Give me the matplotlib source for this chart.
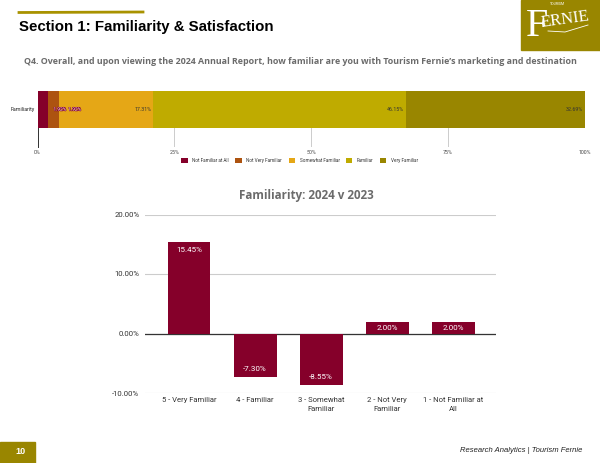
import matplotlib
matplotlib.use("Agg")
import matplotlib.pyplot as plt
import matplotlib.patheffects as pe
from matplotlib.patches import Rectangle
from matplotlib.ticker import FuncFormatter

W, H = 600, 463

# top stacked bar
stack_names = ["Not Familiar at All", "Not Very Familiar", "Somewhat Familiar", "Familiar", "Very Familiar"]
stack_values = [1.92, 1.92, 17.31, 46.15, 32.69]
stack_colors = ["#85002a", "#ad5310", "#e5a716", "#bfab00", "#998600"]
stack_ticks = [0, 25, 50, 75, 100]

# bottom chart
categories = ["5 - Very Familiar", "4 - Familiar", "3 - Somewhat\nFamiliar", "2 - Not Very\nFamiliar", "1 - Not Familiar at\nAll"]
diffs = [15.45, -7.30, -8.66, 2.00, 2.00]
diff_labels = ["15.45%", "-7.30%", "-8.55%", "2.00%", "2.00%"]
diff_ticks = [-10, 0, 10, 20]


# axes placed by pixel box, y counted from the top of the image
def px_axes(left, top, right, bottom):
    return fig.add_axes([left / W, 1 - bottom / H, (right - left) / W, (bottom - top) / H])


fig = plt.figure(figsize=(6, 4.63), dpi=100)
plt.rcParams["font.family"] = "Roboto"

# page furniture
page = px_axes(0, 0, W, H)
page.set_xlim(0, W)
page.set_ylim(H, 0)
page.axis("off")
page.plot([19, 143], [12.5, 12], color="#a89200", lw=2)
page.text(19, 27, "Section 1: Familiarity & Satisfaction", family="Liberation Sans", weight="bold",
          fontsize=10.8, va="center", color="black")
page.text(300, 62, "Q4. Overall, and upon viewing the 2024 Annual Report, how familiar are you with Tourism Fernie\u2019s marketing and destination",
          family="Open Sans", weight="bold", fontsize=6.38, va="center", ha="center", color="#6b6b6b")

# logo
page.add_patch(Rectangle((521, 0), 79, 50, color="#998600"))
page.text(537, 26, "F", family="Liberation Serif", fontsize=29, color="white", ha="center", va="center")
page.text(565, 20, "ERNIE", family="Liberation Serif", fontsize=12, color="white", ha="center", va="center", rotation=8)
page.plot([548, 565, 588], [31, 32, 25], color="white", lw=0.6)
page.text(557, 4, "TOURISM", fontsize=2.5, color="white", ha="center", va="center")

# footer
page.add_patch(Rectangle((0, 442), 35, 21, color="#998600"))
page.text(20, 451, "10", family="Liberation Sans", weight="bold", fontsize=6.5, color="white", ha="center", va="center")
page.text(582, 451, "Research Analytics | Tourism Fernie", family="Liberation Sans", style="italic",
          fontsize=5.5, color="#222222", ha="right", va="center")
page.text(306, 195, "Familiarity: 2024 v 2023", family="Open Sans", weight="bold", fontsize=8.4,
          color="#6b6b6b", ha="center", va="center")

# stacked bar
ax = px_axes(37.5, 90.5, 585, 147)
left = 0
for i, (name, val, col) in enumerate(zip(stack_names, stack_values, stack_colors)):
    ax.barh([0], [val], left=left, height=1, color=col, label=name, zorder=3)
    if val < 5:
        t = ax.text(left + val + 3.3 + i * 0.8, 0, f"{val:.2f}%", fontsize=3.4, color="white", ha="right", va="center", zorder=4)
        t.set_path_effects([pe.withStroke(linewidth=0.7, foreground="#85002a")])
    else:
        ax.text(left + val - 0.3, 0, f"{val:.2f}%", fontsize=3.8, color="#333333", ha="right", va="center", zorder=4)
    left += val
ax.set_xlim(0, 100)
ax.set_ylim(-1.034, 0.514)
ax.set_xticks(stack_ticks)
ax.set_xticklabels([f"{t}%" for t in stack_ticks], fontsize=3.8, color="#444444")
ax.set_yticks([0])
ax.set_yticklabels(["Familiarity"], fontsize=3.8, color="#222222")
ax.tick_params(length=0, pad=2)
ax.grid(axis="x", color="#cccccc", lw=0.7, zorder=0)
for s in ["top", "right", "bottom"]:
    ax.spines[s].set_visible(False)
ax.spines["left"].set_color("#333333")
ax.spines["left"].set_linewidth(0.7)
ax.legend(loc="upper center", bbox_to_anchor=(0.479, -0.12), ncol=5, frameon=False, fontsize=3.3,
          handlelength=1.4, handleheight=1.4, columnspacing=1.4, handletextpad=1.0, labelcolor="#333333")

# difference bars
ax2 = px_axes(145, 214.5, 496, 393)
ax2.bar(range(len(diffs)), diffs, width=0.65, color="#85002a", zorder=3)
for i, (v, lab) in enumerate(zip(diffs, diff_labels)):
    if abs(v) < 5:
        y = v / 2
    elif v > 0:
        y = v - 1.5
    else:
        y = v + 1.4
    ax2.text(i, y, lab, fontsize=5.8, color="white", ha="center", va="center", zorder=4)
ax2.set_xlim(-0.667, 4.65)
ax2.set_ylim(-10, 20)
ax2.set_yticks(diff_ticks)
ax2.yaxis.set_major_formatter(FuncFormatter(lambda v, _: f"{v:.2f}%"))
ax2.set_xticks(range(len(categories)))
ax2.set_xticklabels(categories, fontsize=5.5, color="#333333", linespacing=1.6)
ax2.tick_params(axis="y", length=0, labelsize=5.6, labelcolor="#333333", pad=4)
ax2.tick_params(axis="x", length=0, pad=3)
ax2.grid(axis="y", color="#cccccc", lw=0.8, zorder=0)
ax2.axhline(0, color="#333333", lw=0.9, zorder=2)
for s in ax2.spines.values():
    s.set_visible(False)

fig.savefig("out.png", dpi=100)
